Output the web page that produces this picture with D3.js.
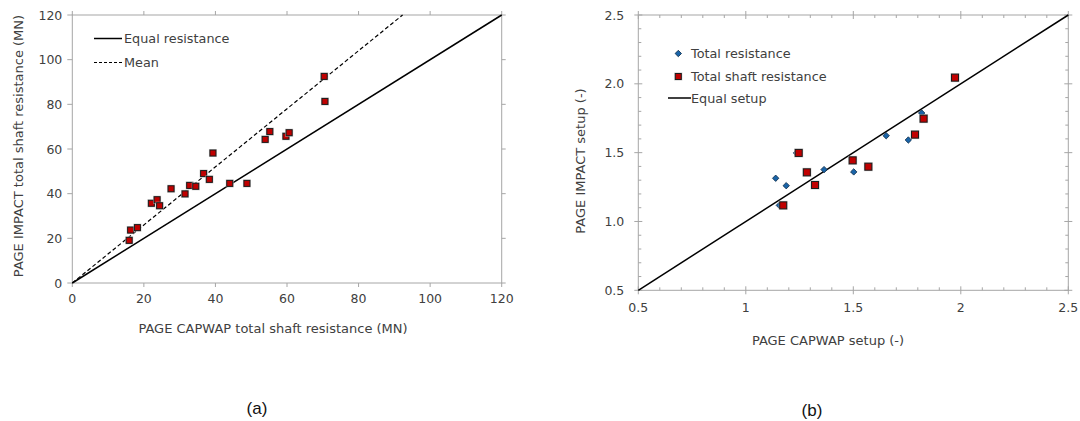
<!DOCTYPE html>
<html>
<head>
<meta charset="utf-8">
<script src="https://cdn.jsdelivr.net/npm/d3@7"></script>
<style>
  body { margin: 0; background: #fff; }
  svg { font-family: 'DejaVu Sans', sans-serif; }
  .frame { fill: none; stroke: #a6a6a6; stroke-width: 1; }
  .tick-line { stroke: #a6a6a6; stroke-width: 1; }
  .tlabel { font-size: 12.5px; fill: #404040; }
  .alabel { font-size: 13px; fill: #404040; }
  .leg { font-size: 12.8px; fill: #404040; }
  .cap { font-family: 'Liberation Sans', Arial, sans-serif; font-size: 17px; fill: #111; }
</style>
</head>
<body>
<div id="chart"></div>
<script>
// ---- chart (a): shaft resistance, MN ----
const capwapShaft = [15.9, 16.3, 18.2, 22.1, 23.7, 24.4, 27.6, 31.5, 32.8, 34.5, 36.7, 38.3, 39.3, 44.0, 48.8, 53.9, 55.2, 59.7, 60.6, 70.4, 70.6];
const impactShaft = [19.1, 23.7, 24.8, 35.7, 37.3, 34.6, 42.2, 39.9, 43.7, 43.3, 49.0, 46.4, 58.2, 44.6, 44.6, 64.3, 67.8, 65.7, 67.3, 92.5, 81.3];
const meanSlope = 1.3;
const ticksA = [0, 20, 40, 60, 80, 100, 120];

// ---- chart (b): setup ----
const setupTotalX = [1.139, 1.156, 1.188, 1.236, 1.364, 1.502, 1.653, 1.756, 1.818];
const setupTotalY = [1.314, 1.117, 1.260, 1.498, 1.377, 1.360, 1.623, 1.592, 1.788];
const setupShaftX = [1.174, 1.246, 1.284, 1.322, 1.497, 1.570, 1.787, 1.827, 1.973];
const setupShaftY = [1.117, 1.498, 1.357, 1.265, 1.444, 1.398, 1.631, 1.747, 2.045];
const ticksBX = [0.5, 1, 1.5, 2, 2.5];
const ticksBXLabels = ['0.5', '1', '1.5', '2', '2.5'];
const ticksBY = [0.5, 1.0, 1.5, 2.0, 2.5];

const W = 1080, H = 421;
const svg = d3.select('#chart').append('svg').attr('width', W).attr('height', H);

const red = '#c00000', blue = '#1a64a8';

function frame(g, x, y) {
  const [x0, x1] = x.range(), [y0, y1] = y.range();
  g.append('rect').attr('class', 'frame')
    .attr('x', x0).attr('y', y1).attr('width', x1 - x0).attr('height', y0 - y1);
}

function square(g, cx, cy, s) {
  g.append('rect').attr('x', cx - s / 2 - 1).attr('y', cy - s / 2 - 1)
    .attr('width', s + 2).attr('height', s + 2).attr('fill', '#bbb').attr('opacity', 0.8);
  g.append('rect').attr('x', cx - s / 2).attr('y', cy - s / 2)
    .attr('width', s).attr('height', s).attr('fill', red)
    .attr('stroke', '#1a1a1a').attr('stroke-width', 1);
}

function diamond(g, cx, cy, r) {
  g.append('path')
    .attr('d', `M${cx},${cy - r}L${cx + r},${cy}L${cx},${cy + r}L${cx - r},${cy}Z`)
    .attr('fill', blue).attr('stroke', '#0d2a45').attr('stroke-width', 0.8);
}

// ================= (a) =================
{
  const g = svg.append('g');
  const x = d3.scaleLinear().domain([0, 120]).range([72.3, 501.7]);
  const y = d3.scaleLinear().domain([0, 120]).range([283, 15]);
  frame(g, x, y);

  // outward ticks on all four sides
  ticksA.forEach(t => {
    g.append('line').attr('class', 'tick-line')
      .attr('x1', x(t)).attr('x2', x(t)).attr('y1', y(0)).attr('y2', y(0) + 4);
    g.append('line').attr('class', 'tick-line')
      .attr('x1', x(t)).attr('x2', x(t)).attr('y1', y(120)).attr('y2', y(120) - 4);
    g.append('line').attr('class', 'tick-line')
      .attr('x1', x(0) - 5).attr('x2', x(0)).attr('y1', y(t)).attr('y2', y(t));
    g.append('line').attr('class', 'tick-line')
      .attr('x1', x(120)).attr('x2', x(120) + 4).attr('y1', y(t)).attr('y2', y(t));
  });
  g.selectAll('.xl').data(ticksA).join('text').attr('class', 'tlabel')
    .attr('x', d => x(d)).attr('y', y(0) + 20).attr('text-anchor', 'middle').text(d => d);
  g.selectAll('.yl').data(ticksA).join('text').attr('class', 'tlabel')
    .attr('x', x(0) - 10).attr('y', d => y(d) + 4.5).attr('text-anchor', 'end').text(d => d);

  const line = d3.line().x(d => x(d[0])).y(d => y(d[1]));
  g.append('path').attr('d', line([[0, 0], [120, 120]]))
    .attr('stroke', '#000').attr('stroke-width', 1.5).attr('fill', 'none');
  g.append('path').attr('d', line([[0, 0], [120 / meanSlope, 120]]))
    .attr('stroke', '#000').attr('stroke-width', 1.2).attr('stroke-dasharray', '4,2.5').attr('fill', 'none');

  capwapShaft.forEach((v, i) => square(g, x(v), y(impactShaft[i]), 6));

  // legend
  g.append('line').attr('x1', 94).attr('x2', 122).attr('y1', 38.5).attr('y2', 38.5)
    .attr('stroke', '#000').attr('stroke-width', 1.5);
  g.append('text').attr('class', 'leg').attr('x', 124).attr('y', 43).text('Equal resistance');
  g.append('line').attr('x1', 94).attr('x2', 122).attr('y1', 62.5).attr('y2', 62.5)
    .attr('stroke', '#000').attr('stroke-width', 1.2).attr('stroke-dasharray', '3,2');
  g.append('text').attr('class', 'leg').attr('x', 124).attr('y', 67).text('Mean');

  g.append('text').attr('class', 'alabel').attr('x', 273).attr('y', 333)
    .attr('text-anchor', 'middle').text('PAGE CAPWAP total shaft resistance (MN)');
  g.append('text').attr('class', 'alabel')
    .attr('transform', 'translate(23,146) rotate(-90)')
    .attr('text-anchor', 'middle').text('PAGE IMPACT total shaft resistance (MN)');
  g.append('text').attr('class', 'cap').attr('x', 257).attr('y', 414)
    .attr('text-anchor', 'middle').text('(a)');
}

// ================= (b) =================
{
  const g = svg.append('g');
  const x = d3.scaleLinear().domain([0.5, 2.5]).range([638.3, 1068.3]);
  const y = d3.scaleLinear().domain([0.5, 2.5]).range([290.3, 15]);
  frame(g, x, y);

  const minor = d3.range(5, 26).map(v => v / 10);
  minor.forEach(t => {
    const major = Math.abs(t * 2 - Math.round(t * 2)) < 1e-6;
    const o = major ? 4 : 0, inn = major ? 4 : 3;
    g.append('line').attr('class', 'tick-line')
      .attr('x1', x(t)).attr('x2', x(t)).attr('y1', y(0.5) + o).attr('y2', y(0.5) - inn);
    g.append('line').attr('class', 'tick-line')
      .attr('x1', x(t)).attr('x2', x(t)).attr('y1', y(2.5) - o).attr('y2', y(2.5) + inn);
    g.append('line').attr('class', 'tick-line')
      .attr('x1', x(0.5) - o).attr('x2', x(0.5) + inn).attr('y1', y(t)).attr('y2', y(t));
    g.append('line').attr('class', 'tick-line')
      .attr('x1', x(2.5) + o).attr('x2', x(2.5) - inn).attr('y1', y(t)).attr('y2', y(t));
  });
  g.selectAll('.xl').data(ticksBX).join('text').attr('class', 'tlabel')
    .attr('x', d => x(d)).attr('y', y(0.5) + 22).attr('text-anchor', 'middle')
    .text((d, i) => ticksBXLabels[i]);
  g.selectAll('.yl').data(ticksBY).join('text').attr('class', 'tlabel')
    .attr('x', x(0.5) - 14).attr('y', d => y(d) + 4.5).attr('text-anchor', 'end')
    .text(d => d.toFixed(1));

  const line = d3.line().x(d => x(d[0])).y(d => y(d[1]));
  g.append('path').attr('d', line([[0.5, 0.5], [2.5, 2.5]]))
    .attr('stroke', '#000').attr('stroke-width', 1.5).attr('fill', 'none');

  setupTotalX.forEach((v, i) => diamond(g, x(v), y(setupTotalY[i]), 3.2));
  setupShaftX.forEach((v, i) => square(g, x(v), y(setupShaftY[i]), 7));

  // legend
  diamond(g, 678.3, 53.5, 3.2);
  g.append('text').attr('class', 'leg').attr('x', 691).attr('y', 58).text('Total resistance');
  square(g, 678.3, 76.5, 6);
  g.append('text').attr('class', 'leg').attr('x', 691).attr('y', 81).text('Total shaft resistance');
  g.append('line').attr('x1', 668).attr('x2', 691).attr('y1', 98).attr('y2', 98)
    .attr('stroke', '#000').attr('stroke-width', 1.5);
  g.append('text').attr('class', 'leg').attr('x', 691).attr('y', 102.5).text('Equal setup');

  g.append('text').attr('class', 'alabel').attr('x', 828).attr('y', 345)
    .attr('text-anchor', 'middle').text('PAGE CAPWAP setup (-)');
  g.append('text').attr('class', 'alabel')
    .attr('transform', 'translate(585,161) rotate(-90)')
    .attr('text-anchor', 'middle').text('PAGE IMPACT setup (-)');
  g.append('text').attr('class', 'cap').attr('x', 812).attr('y', 416)
    .attr('text-anchor', 'middle').text('(b)');
}
</script>
</body>
</html>
